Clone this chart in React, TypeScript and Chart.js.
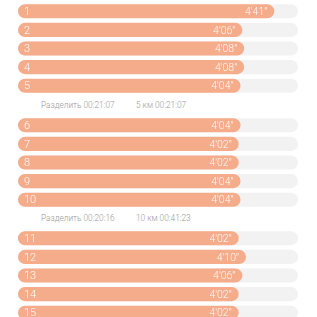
import React, { useEffect, useRef } from "react";
import { Chart, registerables } from "chart.js";

Chart.register(...registerables);

const lapLabels = ["1", "2", "3", "4", "5", "6", "7", "8", "9", "10", "11", "12", "13", "14", "15"];
const paceSeconds = [281, 246, 248, 248, 244, 244, 242, 242, 244, 244, 242, 250, 246, 242, 242];
const splitLabels = ["Разделить 00:21:07", "Разделить 00:20:16"];
const cumulativeLabels = ["5 км 00:21:07", "10 км 00:41:23"];
const trackMax = 307;
const groupSize = 5;

const ORANGE = "#F5AC8B";
const TRACK = "#F2F2F2";
const FONT = "Roboto, 'Noto Sans', sans-serif";

function fmtPace(s: number) {
  const m = Math.floor(s / 60);
  const sec = s % 60;
  return `${m}'${sec < 10 ? "0" + sec : sec}''`;
}

const labelPlugin = {
  id: "lapLabels",
  afterDatasetsDraw(chart: any) {
    const ctx = chart.ctx;
    const meta = chart.getDatasetMeta(0);
    const labels = chart.data.labels as string[];
    const values = chart.data.datasets[0].data as number[];
    ctx.save();
    ctx.fillStyle = "rgba(255,255,255,0.95)";
    ctx.textBaseline = "middle";
    meta.data.forEach((bar: any, i: number) => {
      ctx.font = `300 11px ${FONT}`;
      ctx.textAlign = "left";
      ctx.fillText(labels[i], chart.chartArea.left + 6, bar.y + 1);
      ctx.font = `300 10.5px ${FONT}`;
      ctx.textAlign = "right";
      ctx.fillText(fmtPace(values[i]), bar.x - 7, bar.y + 1);
    });
    ctx.restore();
  },
};

function LapChart({ start }: { start: number }) {
  const ref = useRef<HTMLCanvasElement>(null);
  useEffect(() => {
    const labels = lapLabels.slice(start, start + groupSize);
    const data = paceSeconds.slice(start, start + groupSize);
    const chart = new Chart(ref.current!, {
      type: "bar",
      data: {
        labels,
        datasets: [
          {
            data,
            backgroundColor: ORANGE,
            borderRadius: 20,
            borderSkipped: false,
            barPercentage: 1,
            categoryPercentage: 0.76,
            grouped: false,
          } as any,
          {
            data: labels.map(() => trackMax),
            backgroundColor: TRACK,
            borderRadius: 20,
            borderSkipped: false,
            barPercentage: 1,
            categoryPercentage: 0.76,
            grouped: false,
          } as any,
        ],
      },
      options: {
        indexAxis: "y",
        animation: false,
        responsive: true,
        maintainAspectRatio: false,
        layout: { padding: 0 },
        plugins: { legend: { display: false }, tooltip: { enabled: false } },
        scales: {
          x: { display: false, min: 0, max: trackMax },
          y: { display: false },
        },
      },
      plugins: [labelPlugin],
    });
    return () => chart.destroy();
  }, [start]);
  return <canvas ref={ref} />;
}

const splitStyle = (top: number): React.CSSProperties => ({
  position: "absolute",
  top,
  left: 0,
  width: 317,
  height: 14,
  fontFamily: FONT,
  fontSize: 8.3,
  fontWeight: 300,
  color: "#999999",
  lineHeight: "14px",
  whiteSpace: "nowrap",
});

export default function App() {
  const chartTops = [2, 115.5, 228.5];
  const splitTops = [98, 211];
  return (
    <div style={{ position: "fixed", top: 0, left: 0, width: 317, height: 317, background: "#fff", overflow: "hidden" }}>
      {chartTops.map((t, g) => (
        <div key={g} style={{ position: "absolute", top: t, left: 18, width: 280, height: 93 }}>
          <LapChart start={g * groupSize} />
        </div>
      ))}
      {splitTops.map((t, i) => (
        <div key={"s" + i} style={splitStyle(t)}>
          <span style={{ position: "absolute", left: 41 }}>{splitLabels[i]}</span>
          <span style={{ position: "absolute", left: 136 }}>{cumulativeLabels[i]}</span>
        </div>
      ))}
    </div>
  );
}
